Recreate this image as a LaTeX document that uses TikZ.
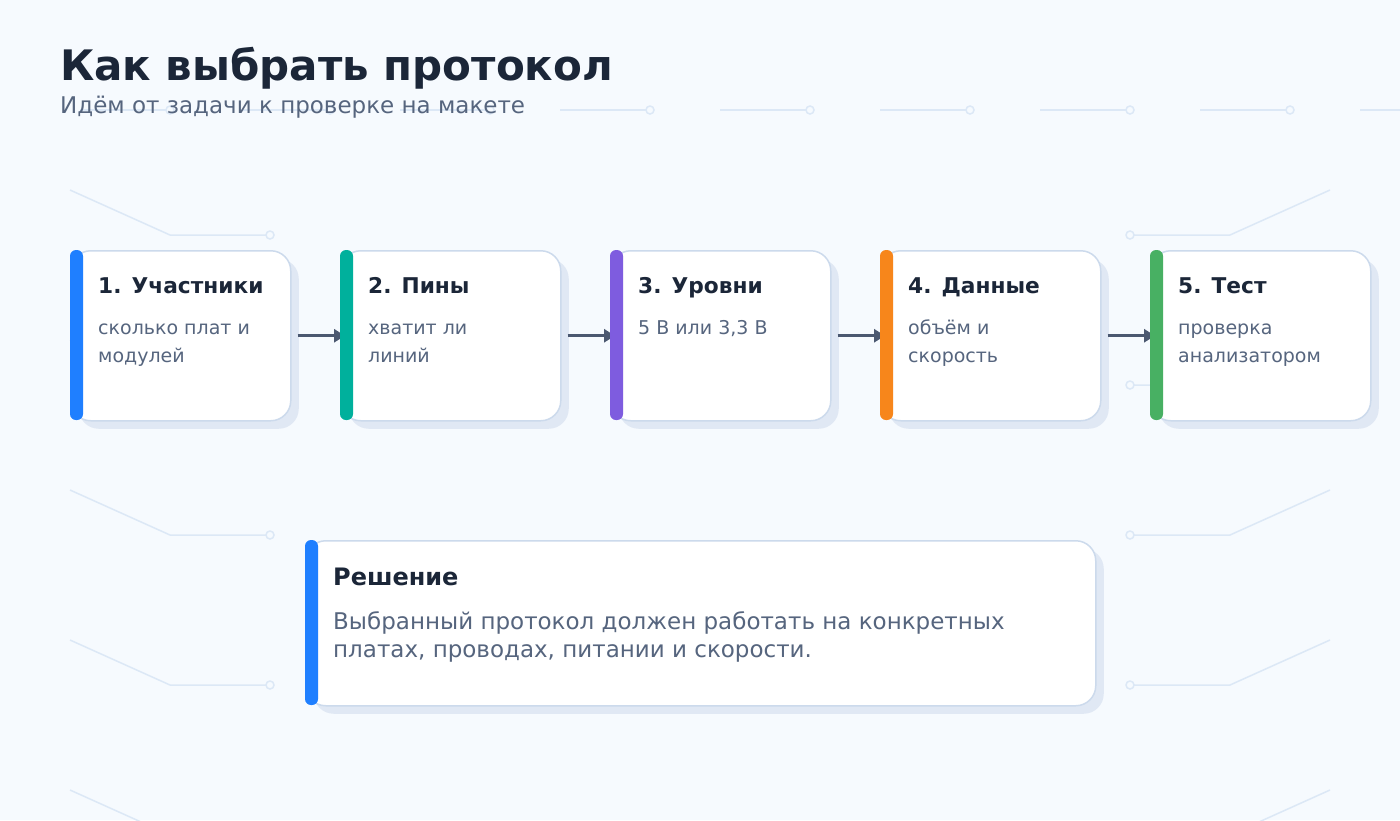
\documentclass[tikz,border=0pt]{standalone}
\usepackage{fontspec}
\setmainfont{DejaVu Sans}
\usetikzlibrary{calc,positioning,arrows.meta,shadows}

\definecolor{bgc}{HTML}{F6FAFE}
\definecolor{tracec}{HTML}{DCE8F6}
\definecolor{cardline}{HTML}{CCDAEC}
\definecolor{shadowc}{HTML}{E0E8F4}
\definecolor{ink}{HTML}{1B2638}
\definecolor{muted}{HTML}{56657E}
\definecolor{arrowc}{HTML}{4B5870}
\definecolor{accblue}{HTML}{1F7FFF}
\definecolor{accteal}{HTML}{00B09C}
\definecolor{accpurple}{HTML}{7E5CDF}
\definecolor{accorange}{HTML}{F7861B}
\definecolor{accgreen}{HTML}{48B063}

\tikzset{
  card/.style={draw=cardline, fill=white, line width=1.5pt, rounded corners=20pt,
    minimum width=220pt, minimum height=170pt, anchor=north west, inner sep=0pt,
    drop shadow={shadow xshift=8pt, shadow yshift=-8pt, fill=shadowc, opacity=1}},
  bar/.style={fill=#1, rounded corners=6pt},
  trace/.style={draw=tracec, line width=1.5pt},
  pin/.style={draw=tracec, fill=bgc, line width=1.5pt},
  step title/.style={anchor=base west, inner sep=0pt, text=ink, font=\fontsize{21.7}{26}\selectfont\bfseries},
  step text/.style={anchor=base west, inner sep=0pt, text=muted, align=left, font=\fontsize{19}{28}\selectfont},
  flow/.style={draw=arrowc, line width=3pt, -{Triangle[length=11pt,width=13pt]}}
}

\begin{document}
\begin{tikzpicture}[x=1pt, y=-1pt]
    \useasboundingbox (0,0) rectangle (1400,820);
    \fill[bgc] (0,0) rectangle (1400,820);
    \begin{scope}
    \clip (0,0) rectangle (1400,820);
    % background traces
    \foreach \k in {0,...,8} {
        \draw[trace] (80+160*\k,110) -- (166+160*\k,110);
        \draw[pin] (170+160*\k,110) circle (4);
    }
    \foreach \y in {190,340,490,640,790} {
        \draw[trace] (70,\y) -- (170,\y+45) -- (266,\y+45);
        \draw[pin] (270,\y+45) circle (4);
        \draw[trace] (1330,\y) -- (1230,\y+45) -- (1134,\y+45);
        \draw[pin] (1130,\y+45) circle (4);
    }
    \end{scope}

    % heading
    \node[anchor=base west, inner sep=0pt, text=ink, font=\fontsize{42}{50}\selectfont\bfseries] (title) at (60,80) {Как выбрать протокол};
    \node[anchor=base west, inner sep=0pt, text=muted, font=\fontsize{23}{28}\selectfont] (subtitle) at (60,113) {Идём от задачи к проверке на макете};

    % steps
    \node[card] (c1) at (70,250) {};
    \node[card] (c2) at (340,250) {};
    \node[card] (c3) at (610,250) {};
    \node[card] (c4) at (880,250) {};
    \node[card] (c5) at (1150,250) {};

    \draw[flow] ($(c1.east)+(6,0)$) -- ($(c2.west)+(5,0)$);
    \draw[flow] ($(c2.east)+(6,0)$) -- ($(c3.west)+(5,0)$);
    \draw[flow] ($(c3.east)+(6,0)$) -- ($(c4.west)+(5,0)$);
    \draw[flow] ($(c4.east)+(6,0)$) -- ($(c5.west)+(5,0)$);

    \fill[bar=accblue] (c1.north west) rectangle ++(13,170);
    \fill[bar=accteal] (c2.north west) rectangle ++(13,170);
    \fill[bar=accpurple] (c3.north west) rectangle ++(13,170);
    \fill[bar=accorange] (c4.north west) rectangle ++(13,170);
    \fill[bar=accgreen] (c5.north west) rectangle ++(13,170);

    % two-line texts sit on the baseline of their last line
    \node[step title] (t1) at (98,293) {1. Участники};
    \node[step text] (d1) at (98,362) {сколько плат и\\модулей};
    \node[step title] (t2) at (368,293) {2. Пины};
    \node[step text] (d2) at (368,362) {хватит ли\\линий};
    \node[step title] (t3) at (638,293) {3. Уровни};
    \node[step text] (d3) at (638,334) {5 В или 3,3 В};
    \node[step title] (t4) at (908,293) {4. Данные};
    \node[step text] (d4) at (908,362) {объём и\\скорость};
    \node[step title] (t5) at (1178,293) {5. Тест};
    \node[step text] (d5) at (1178,362) {проверка\\анализатором};

    % decision
    \node[card, minimum width=790pt, minimum height=165pt] (res) at (305,540) {};
    \fill[bar=accblue] (res.north west) rectangle ++(13,165);
    \node[step title, font=\fontsize{24}{28}\selectfont\bfseries] (rest) at (333,585) {Решение};
    \node[step text, font=\fontsize{23}{28}\selectfont] (resd) at (333,657) {Выбранный протокол должен работать на конкретных\\платах, проводах, питании и скорости.};
\end{tikzpicture}
\end{document}
